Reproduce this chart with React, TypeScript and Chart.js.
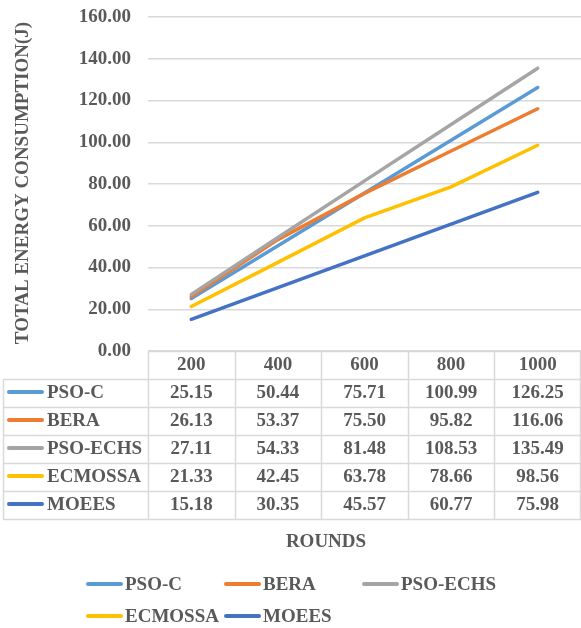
import React, { useEffect, useRef } from "react";
import { Chart, registerables } from "chart.js";

Chart.register(...registerables);

const categories = ["200", "400", "600", "800", "1000"];
const psoC = [25.15, 50.44, 75.71, 100.99, 126.25];
const bera = [26.13, 53.37, 75.5, 95.82, 116.06];
const psoEchs = [27.11, 54.33, 81.48, 108.53, 135.49];
const ecmossa = [21.33, 42.45, 63.78, 78.66, 98.56];
const moees = [15.18, 30.35, 45.57, 60.77, 75.98];
const seriesNames = ["PSO-C", "BERA", "PSO-ECHS", "ECMOSSA", "MOEES"];
const seriesValues = [psoC, bera, psoEchs, ecmossa, moees];
const seriesColors = ["#5B9BD5", "#ED7D31", "#A5A5A5", "#FFC000", "#4472C4"];
const yMin = 0;
const yMax = 160;
const yStep = 20;
const yTitle = "TOTAL ENERGY CONSUMPTION(J)";
const xTitle = "ROUNDS";

const FONT = "'Liberation Serif', 'Times New Roman', serif";
const TEXT = "#595959";
const GRID = "#D9D9D9";

const tablePlugin = {
  id: "tablePlugin",
  afterDraw(chart: any) {
    const ctx = chart.ctx;
    const { left, right, bottom } = chart.chartArea;
    const xs = chart.scales.x;
    const n = categories.length;
    const bounds: number[] = [left];
    for (let i = 0; i < n - 1; i++) {
      bounds.push((xs.getPixelForValue(i) + xs.getPixelForValue(i + 1)) / 2);
    }
    bounds.push(right - 1);
    const tableLeft = 3;
    const headerH = 28;
    const rowH = 28;
    const top = bottom;
    const rowsTop = top + headerH;
    const tableBottom = rowsTop + rowH * seriesNames.length;

    ctx.save();
    ctx.strokeStyle = GRID;
    ctx.lineWidth = 1.5;
    const hline = (x1: number, x2: number, y: number) => {
      ctx.beginPath();
      ctx.moveTo(x1, Math.round(y) + 0.5);
      ctx.lineTo(x2, Math.round(y) + 0.5);
      ctx.stroke();
    };
    const vline = (x: number, y1: number, y2: number) => {
      ctx.beginPath();
      ctx.moveTo(Math.round(x) + 0.5, y1);
      ctx.lineTo(Math.round(x) + 0.5, y2);
      ctx.stroke();
    };
    hline(bounds[0], right, top);
    for (let r = 0; r <= seriesNames.length; r++) {
      hline(tableLeft, right, rowsTop + r * rowH);
    }
    bounds.forEach((b) => vline(b, top, tableBottom));
    vline(tableLeft, rowsTop, tableBottom);

    ctx.fillStyle = TEXT;
    ctx.font = `bold 19px ${FONT}`;
    ctx.textAlign = "center";
    ctx.textBaseline = "middle";
    categories.forEach((c, i) => {
      ctx.fillText(c, xs.getPixelForValue(i), top + headerH / 2 + 0.5);
    });
    seriesNames.forEach((name, r) => {
      const cy = rowsTop + r * rowH + rowH / 2;
      ctx.strokeStyle = seriesColors[r];
      ctx.lineWidth = 4;
      ctx.lineCap = "round";
      ctx.beginPath();
      ctx.moveTo(9, cy - 1);
      ctx.lineTo(42, cy - 1);
      ctx.stroke();
      ctx.fillStyle = TEXT;
      ctx.textAlign = "left";
      ctx.fillText(name, 47, cy);
      ctx.textAlign = "center";
      seriesValues[r].forEach((v, i) => {
        ctx.fillText(v.toFixed(2), xs.getPixelForValue(i), cy);
      });
    });

    // x-axis title
    ctx.fillText(xTitle, 326, 542);

    // y-axis title
    ctx.save();
    ctx.translate(23, 183);
    ctx.rotate(-Math.PI / 2);
    ctx.fillText(yTitle, 0, 0);
    ctx.restore();

    // legend
    const legendPos = [
      [86, 585],
      [224, 585],
      [362, 585],
      [86, 617],
      [224, 617],
    ];
    seriesNames.forEach((name, i) => {
      const [lx, ly] = legendPos[i];
      ctx.strokeStyle = seriesColors[i];
      ctx.lineWidth = 4;
      ctx.lineCap = "round";
      ctx.beginPath();
      ctx.moveTo(lx + 2, ly - 1);
      ctx.lineTo(lx + 35, ly - 1);
      ctx.stroke();
      ctx.fillStyle = TEXT;
      ctx.textAlign = "left";
      ctx.fillText(name, lx + 39, ly);
    });
    ctx.restore();
  },
};

export default function App() {
  const ref = useRef<HTMLCanvasElement>(null);
  useEffect(() => {
    document.body.style.margin = "0";
    const canvas = ref.current!;
    const chart = new Chart(canvas, {
      type: "line",
      data: {
        labels: categories,
        datasets: seriesNames.map((name, i) => ({
          label: name,
          data: seriesValues[i],
          borderColor: seriesColors[i],
          backgroundColor: seriesColors[i],
          borderWidth: 3.5,
          pointRadius: 0,
          tension: 0,
          borderCapStyle: "round" as const,
          order: -i,
        })),
      },
      options: {
        responsive: false,
        animation: false,
        layout: { padding: { top: 17, right: 0, bottom: 277, left: 0 } },
        plugins: { legend: { display: false }, tooltip: { enabled: false } },
        scales: {
          x: { display: false, offset: true },
          y: {
            min: yMin,
            max: yMax,
            ticks: {
              stepSize: yStep,
              padding: 17,
              color: TEXT,
              font: { family: FONT, size: 19, weight: "bold" },
              callback: (v: any) => Number(v).toFixed(2),
            },
            grid: { color: GRID, lineWidth: 1.5, drawTicks: false },
            border: { display: false },
            afterFit: (scale: any) => {
              scale.width = 148;
              scale.paddingTop = 0;
              scale.paddingBottom = 0;
            },
          },
        },
      },
      plugins: [tablePlugin],
    });
    return () => chart.destroy();
  }, []);
  return <canvas ref={ref} width={581} height={628} style={{ display: "block" }} />;
}
